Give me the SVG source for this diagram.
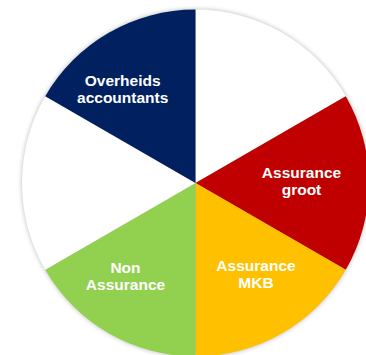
<svg xmlns="http://www.w3.org/2000/svg" width="366" height="355" viewBox="0 0 366 355">
<style>
.lbl{font-family:"Liberation Sans",Arial,sans-serif;font-weight:bold;font-size:15.5px;fill:#fff;text-anchor:middle}
</style>
<defs>
<filter id="sh" x="-20%" y="-20%" width="140%" height="140%">
<feGaussianBlur stdDeviation="2.5"/>
</filter>
</defs>
<rect width="366" height="355" fill="#fff"/>
<circle cx="195.5" cy="183" r="173.5" fill="#000" opacity="0.28" filter="url(#sh)"/>
<g id="seg-white-top"><path d="M195.5 183 L195.5 9.5 A173.5 173.5 0 0 1 345.75 96.25 Z" fill="#fff"/></g>
<g id="seg-groot"><path d="M195.5 183 L345.75 96.25 A173.5 173.5 0 0 1 345.75 269.75 Z" fill="#C00000"/>
<text class="lbl" x="301.5" y="177.5">Assurance</text><text class="lbl" x="301.5" y="194.5">groot</text></g>
<g id="seg-mkb"><path d="M195.5 183 L345.75 269.75 A173.5 173.5 0 0 1 195.5 356.5 Z" fill="#FFC000"/>
<text class="lbl" x="256" y="270.8">Assurance</text><text class="lbl" x="256" y="287.5">MKB</text></g>
<g id="seg-non"><path d="M195.5 183 L195.5 356.5 A173.5 173.5 0 0 1 45.25 269.75 Z" fill="#92D050"/>
<text class="lbl" x="125.5" y="272.8">Non</text><text class="lbl" x="125.5" y="289.5">Assurance</text></g>
<g id="seg-white-left"><path d="M195.5 183 L45.25 269.75 A173.5 173.5 0 0 1 45.25 96.25 Z" fill="#fff"/></g>
<g id="seg-overheids"><path d="M195.5 183 L45.25 96.25 A173.5 173.5 0 0 1 195.5 9.5 Z" fill="#002060"/>
<text class="lbl" x="122.7" y="86.3">Overheids</text><text class="lbl" x="122.7" y="103">accountants</text></g>
<g id="connectors"/>
</svg>
